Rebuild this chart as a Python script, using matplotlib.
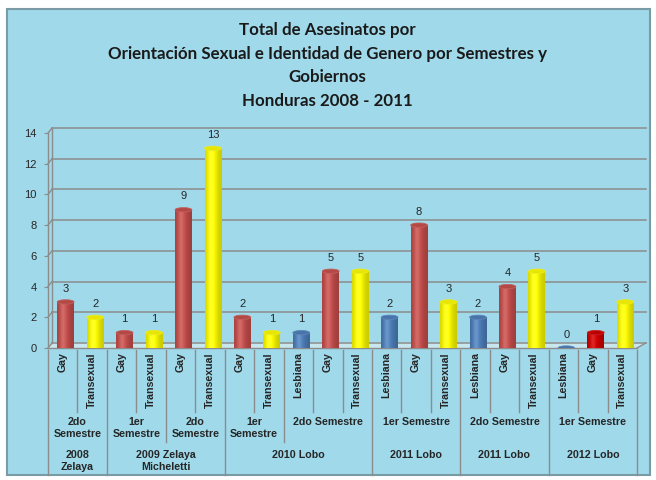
import numpy as np
import matplotlib
matplotlib.use("Agg")
import matplotlib.pyplot as plt
from matplotlib import font_manager as fm
from matplotlib.patches import Rectangle, Ellipse
from matplotlib.colors import to_rgb

# --- data ---
categories = ["Gay", "Transexual", "Gay", "Transexual", "Gay", "Transexual",
              "Gay", "Transexual", "Lesbiana", "Gay", "Transexual",
              "Lesbiana", "Gay", "Transexual", "Lesbiana", "Gay", "Transexual",
              "Lesbiana", "Gay", "Transexual"]
values = [3, 2, 1, 1, 9, 13, 2, 1, 1, 5, 5, 2, 8, 3, 2, 4, 5, 0, 1, 3]
semester_labels = ["2do\nSemestre", "1er\nSemestre", "2do\nSemestre", "1er\nSemestre",
                   "2do Semestre", "1er Semestre", "2do Semestre", "1er Semestre"]
semester_sizes = [2, 2, 2, 2, 3, 3, 3, 3]
gov_labels = ["2008\nZelaya", "2009 Zelaya\nMicheletti", "2010 Lobo",
              "2011 Lobo", "2011 Lobo", "2012 Lobo"]
gov_sizes = [2, 4, 5, 3, 3, 3]
yticks = [0, 2, 4, 6, 8, 10, 12, 14]

TITLE = ("Total de Asesinatos por\n"
         "Orientación Sexual e Identidad de Genero por Semestres y\n"
         "Gobiernos\n"
         "Honduras 2008 - 2011")

COLORS = {"Gay": "#C8504D", "Transexual": "#FFFF00", "Lesbiana": "#4F81BD"}
BRIGHT_RED = "#D40000"
PANEL = "#9FD9EA"
GRID = "#8C8C8C"
TXT = "#262626"


def font_file(name, fallback):
    for f in fm.findSystemFonts():
        if f.endswith(name):
            return fm.FontProperties(fname=f)
    return fm.FontProperties(family=fallback)


ARIAL_B = font_file("LiberationSans-Bold.ttf", "DejaVu Sans")
ARIAL = font_file("LiberationSans-Regular.ttf", "DejaVu Sans")

W, H = 656, 480
fig = plt.figure(figsize=(W / 100, H / 100), dpi=100)
fig.patch.set_facecolor("white")

# blue panel
fig.patches.append(Rectangle((7 / W, 1 - 475 / H), 643 / W, 466 / H,
                             transform=fig.transFigure, facecolor=PANEL,
                             edgecolor="#7A9AA6", linewidth=1.5, zorder=-10))

fig.text(327 / W, 1 - 22 / H, TITLE, ha="center", va="top", fontsize=12.2,
         fontweight="bold", family=["Lato", "DejaVu Sans"], color="#1a1a1a",
         linespacing=1.58)

# plot area in pixels: front axis x 48..637, y 348 (0) .. 133 (14)
x0, x1, yb, yt = 48, 637, 348, 133
ax = fig.add_axes([x0 / W, 1 - yb / H, (x1 - x0) / W, (yb - yt) / H])
ax.patch.set_alpha(0)
for s in ax.spines.values():
    s.set_visible(False)

n = len(values)
px_x = (x1 - x0) / n
px_y = (yb - yt) / 14
dx = 4 / px_x
dy = 5 / px_y

# back wall gridlines + little diagonals
for v in yticks:
    ax.plot([dx, n + 0.3], [v + dy, v + dy], color=GRID, lw=1.1, zorder=1,
            clip_on=False)
    ax.plot([0, dx], [v, v + dy], color=GRID, lw=1.0, zorder=1, clip_on=False)
ax.plot([dx, dx], [dy, 14 + dy], color=GRID, lw=1.0, zorder=1, clip_on=False)
ax.plot([0, 0], [0, 14], color=GRID, lw=1.0, zorder=1, clip_on=False)
ax.plot([0, n], [0, 0], color=GRID, lw=1.0, zorder=1, clip_on=False)
ax.plot([n, n + 0.3], [0, dy], color=GRID, lw=1.0, zorder=1, clip_on=False)
ax.fill([0, n, n + 0.3, dx], [0, 0, dy, dy], color="#C8E6EE", zorder=0.5,
        clip_on=False)

# cylinders
bw = 0.57
cap_h = 0.28
t = np.linspace(0, 1, 60)
shade = 0.78 + 0.24 * np.exp(-((t - 0.4) / 0.35) ** 2)
hilite = 0.15 * np.exp(-((t - 0.35) / 0.15) ** 2)
xs = np.arange(n) + 0.5 + 0.1
for i, (cat, v) in enumerate(zip(categories, values)):
    base = np.array(to_rgb(BRIGHT_RED if i == 18 else COLORS[cat]))
    if v > 0:
        img = base[None, :] * shade[:, None]
        img = img * (1 - hilite[:, None]) + hilite[:, None]
        img = np.clip(img, 0, 1)[None, :, :]
        ax.imshow(img, extent=[xs[i] - bw / 2, xs[i] + bw / 2, 0, v],
                  aspect="auto", zorder=2, interpolation="bilinear")
        ax.add_patch(Ellipse((xs[i], 0), bw, cap_h, facecolor=base * 0.78,
                             edgecolor="none", zorder=1.9))
    ax.add_patch(Ellipse((xs[i], v), bw, cap_h, facecolor=base * 0.9,
                         edgecolor=np.clip(base * 0.8 + 0.12, 0, 1),
                         linewidth=0.6, zorder=3))
    lab = ax.annotate(str(v), (xs[i], v), xytext=(0, 6),
                      textcoords="offset points", ha="center", va="bottom",
                      color=TXT, fontproperties=ARIAL)
    lab.set_fontsize(8)

ax.set_xlim(0, n)
ax.set_ylim(0, 14)
ax.set_xticks([])
ax.set_yticks(yticks)
ax.tick_params(axis="y", length=3, color=GRID, labelcolor=TXT, pad=5)
for lab in ax.get_yticklabels():
    lab.set_fontproperties(ARIAL)
    lab.set_fontsize(8)


# multi-level category axis
def px(x):
    return x * px_x + x0


def put_line(xc, y_top, y_bot):
    fig.add_artist(plt.Line2D([px(xc) / W] * 2, [1 - y_top / H, 1 - y_bot / H],
                              color=GRID, lw=1.0))


def put_label(x, y, s, **kw):
    t = fig.text(px(x) / W, 1 - y / H, s, ha="center", va="top", color=TXT,
                 fontproperties=ARIAL_B, **kw)
    t.set_fontsize(7.7)


for i, cat in enumerate(categories):
    put_label(i + 0.5, 352, cat, rotation=90)

sem_edges = np.concatenate([[0], np.cumsum(semester_sizes)])
gov_edges = np.concatenate([[0], np.cumsum(gov_sizes)])
for k in range(n + 1):
    if k in gov_edges:
        put_line(k, 350, 475)
    elif k in sem_edges:
        put_line(k, 350, 442)
    else:
        put_line(k, 350, 412)

for j, lab in enumerate(semester_labels):
    put_label((sem_edges[j] + sem_edges[j + 1]) / 2, 417, lab, linespacing=1.2)
for j, lab in enumerate(gov_labels):
    put_label((gov_edges[j] + gov_edges[j + 1]) / 2, 450, lab, linespacing=1.2)

fig.savefig("out.png", dpi=100, facecolor="white")
